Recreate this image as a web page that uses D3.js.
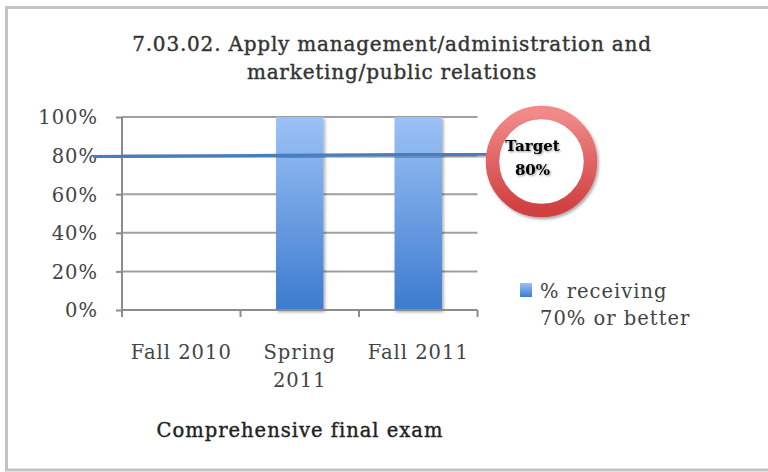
<!DOCTYPE html>
<html>
<head>
<meta charset="utf-8">
<script src="https://cdn.jsdelivr.net/npm/d3@7"></script>
<style>
  html, body { margin: 0; padding: 0; background: #fff; }
  svg { display: block; }
  text { font-family: "DejaVu Serif", "Liberation Serif", serif; }
  .heavy { stroke-width: 0.4px; }
</style>
</head>
<body>
<svg id="chart" width="768" height="472"></svg>
<script>
// Chart data
const titleLines = ["7.03.02. Apply management/administration and", "marketing/public relations"];
const categories = [["Fall 2010"], ["Spring", "2011"], ["Fall 2011"]];
const categoryKeys = ["Fall 2010", "Spring 2011", "Fall 2011"];
const seriesValues = [0, 1, 1];
const yTicks = [0, 0.2, 0.4, 0.6, 0.8, 1.0];
const targetValue = 0.8;
const targetLabel = ["Target", "80%"];
const seriesName = ["% receiving", "70% or better"];
const xAxisTitle = "Comprehensive final exam";

const svg = d3.select("#chart");
const defs = svg.append("defs");

// gradients
const barGrad = defs.append("linearGradient").attr("id", "barGrad")
  .attr("x1", 0).attr("y1", 0).attr("x2", 0).attr("y2", 1);
barGrad.append("stop").attr("offset", "0%").attr("stop-color", "#9cc2f6");
barGrad.append("stop").attr("offset", "100%").attr("stop-color", "#3c7bcf");

const ringGrad = defs.append("linearGradient").attr("id", "ringGrad")
  .attr("x1", 0).attr("y1", 0).attr("x2", 0).attr("y2", 1);
ringGrad.append("stop").attr("offset", "0%").attr("stop-color", "#f28a8a");
ringGrad.append("stop").attr("offset", "100%").attr("stop-color", "#cf3f3f");

const shadow = defs.append("filter").attr("id", "shadow")
  .attr("x", "-20%").attr("y", "-20%").attr("width", "150%").attr("height", "150%");
shadow.append("feDropShadow").attr("dx", 1.5).attr("dy", 2).attr("stdDeviation", 1.5)
  .attr("flood-color", "#000").attr("flood-opacity", 0.35);

const glow = defs.append("filter").attr("id", "glow")
  .attr("x", "-20%").attr("y", "-30%").attr("width", "140%").attr("height", "160%");
glow.append("feGaussianBlur").attr("in", "SourceAlpha").attr("stdDeviation", 1.2).attr("result", "b");
glow.append("feOffset").attr("in", "b").attr("dx", 1).attr("dy", 1).attr("result", "o");
glow.append("feComponentTransfer").attr("in", "o").attr("result", "s")
  .append("feFuncA").attr("type", "linear").attr("slope", 0.45);
const gm = glow.append("feMerge");
gm.append("feMergeNode").attr("in", "s");
gm.append("feMergeNode").attr("in", "SourceGraphic");

// outer frame
svg.append("rect").attr("x", 6.5).attr("y", 7.5).attr("width", 770).attr("height", 462.5)
  .attr("fill", "#fff").attr("stroke", "#c3c3c3").attr("stroke-width", 3);

// scales
const x = d3.scaleBand().domain(categoryKeys).range([122, 477.5])
  .paddingInner(0.6).paddingOuter(0.3);
const y = d3.scaleLinear().domain([0, 1]).range([310, 117]);

const labelFont = "19.5px";
const labelSpacing = "1px";

// title
const title = svg.append("text").attr("class", "heavy").attr("text-anchor", "middle")
  .attr("fill", "#333").attr("stroke", "#333")
  .style("font-size", "20px").style("letter-spacing", "0.8px");
titleLines.forEach((t, i) => {
  title.append("tspan").attr("x", 392).attr("y", 51 + i * 28).text(t);
});

// gridlines
svg.append("g").selectAll("line").data(yTicks.filter(d => d > 0)).join("line")
  .attr("x1", 122).attr("x2", 477.5)
  .attr("y1", d => y(d)).attr("y2", d => y(d))
  .attr("stroke", "#a0a0a0").attr("stroke-width", 2);

// y axis
const yAxis = svg.append("g").attr("transform", "translate(122,0)")
  .call(d3.axisLeft(y).tickValues(yTicks).tickFormat(d3.format(".0%")).tickSize(6).tickPadding(6));
yAxis.select(".domain").attr("stroke", "#8c8c8c").attr("stroke-width", 2)
  .attr("d", `M0,${y(1)}V${y(0)}`);
yAxis.selectAll(".tick line").attr("stroke", "#8c8c8c").attr("stroke-width", 2);
yAxis.selectAll(".tick text").attr("fill", "#444").style("font-size", labelFont)
  .style("letter-spacing", labelSpacing)
  .style("font-family", "'DejaVu Serif', serif").attr("x", -24).attr("dy", "0.35em");

// bars
svg.append("g").selectAll("rect").data(seriesValues).join("rect")
  .attr("x", (d, i) => x(categoryKeys[i]))
  .attr("y", d => y(d))
  .attr("width", x.bandwidth())
  .attr("height", d => y(0) - y(d))
  .attr("fill", "url(#barGrad)")
  .attr("filter", "url(#shadow)");

// x axis
const xAxis = svg.append("g").attr("transform", `translate(0,${y(0)})`);
xAxis.append("line").attr("x1", 122).attr("x2", 477.5).attr("y1", 0).attr("y2", 0)
  .attr("stroke", "#8c8c8c").attr("stroke-width", 2);
const step = x.step();
xAxis.selectAll("line.tk").data(d3.range(categoryKeys.length + 1)).join("line")
  .attr("class", "tk")
  .attr("x1", i => 122 + i * step).attr("x2", i => 122 + i * step)
  .attr("y1", 0).attr("y2", 7)
  .attr("stroke", "#8c8c8c").attr("stroke-width", 2);
xAxis.selectAll("text.cat").data(categories).join("text")
  .attr("class", "cat")
  .attr("text-anchor", "middle").attr("fill", "#444")
  .style("font-size", labelFont).style("letter-spacing", labelSpacing)
  .each(function(lines, i) {
    const t = d3.select(this);
    const cx = x(categoryKeys[i]) + x.bandwidth() / 2;
    lines.forEach((l, j) => t.append("tspan").attr("x", cx).attr("y", 49 + j * 28).text(l));
  });

// axis title
svg.append("text").attr("class", "heavy").attr("x", 300).attr("y", 437).attr("text-anchor", "middle")
  .attr("fill", "#222").attr("stroke", "#222")
  .style("font-size", labelFont).style("letter-spacing", labelSpacing)
  .text(xAxisTitle);

// target line
svg.append("line")
  .attr("x1", 93).attr("x2", 487)
  .attr("y1", y(targetValue) + 1).attr("y2", y(targetValue) - 1.5)
  .attr("stroke", "#4a7ebc").attr("stroke-width", 3.2)
  .attr("filter", "url(#shadow)");

// target badge
const badge = svg.append("g").attr("transform", `translate(541.5,${y(targetValue) + 6})`);
badge.append("circle").attr("r", 49).attr("fill", "#fff")
  .attr("stroke", "url(#ringGrad)").attr("stroke-width", 13.5)
  .attr("filter", "url(#shadow)");
badge.append("text").attr("text-anchor", "middle").attr("fill", "#000")
  .style("font-size", "15px").style("font-weight", "bold")
  .attr("filter", "url(#glow)")
  .selectAll("tspan").data(targetLabel).join("tspan")
  .attr("x", -9).attr("y", (d, i) => -11 + i * 24).text(d => d);

// legend
const legend = svg.append("g");
legend.append("rect").attr("x", 520).attr("y", 283).attr("width", 12).attr("height", 14)
  .attr("fill", "url(#barGrad)");
legend.append("text").attr("fill", "#444")
  .style("font-size", labelFont).style("letter-spacing", labelSpacing)
  .selectAll("tspan").data(seriesName).join("tspan")
  .attr("x", 540).attr("y", (d, i) => 298 + i * 27).text(d => d);
</script>
</body>
</html>
